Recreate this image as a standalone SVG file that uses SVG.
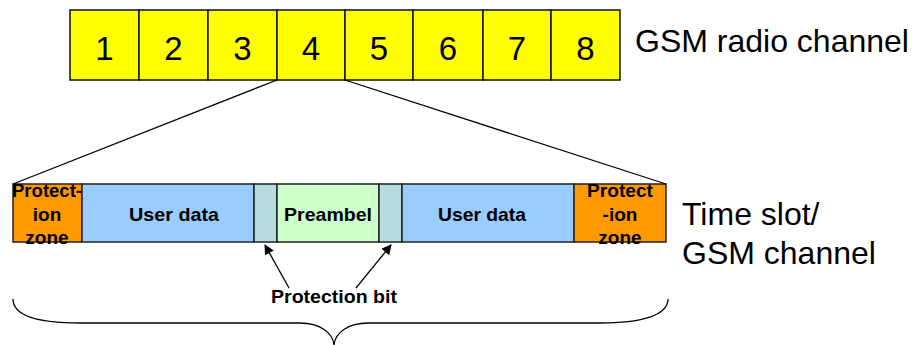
<svg xmlns="http://www.w3.org/2000/svg" width="912" height="345" viewBox="0 0 912 345">
  <style>
    .slot { fill: #FFFF00; stroke: #111; stroke-width: 1.5; }
    .num { font-family: "Liberation Sans", Arial, sans-serif; font-size: 33px; fill: #000; text-anchor: middle; }
    .big { font-family: "Liberation Sans", Arial, sans-serif; font-size: 32px; fill: #000; }
    .lbl { font-family: "Liberation Sans", Arial, sans-serif; font-size: 19px; font-weight: bold; fill: #000; text-anchor: middle; }
    .seg { stroke: #222; stroke-width: 1.5; }
    .zone { fill: #FF9900; }
    .user { fill: #99CCFF; }
    .pbit { fill: #B7DCDF; }
    .pre { fill: #CCFFCC; }
    .line { fill: none; stroke: #000; stroke-width: 1.3; }
  </style>
  <defs>
    <marker id="arrow" viewBox="0 0 10 10" refX="9" refY="5" markerWidth="11" markerHeight="10" markerUnits="userSpaceOnUse" orient="auto">
      <path d="M0,0 L10,5 L0,10 z" fill="#000"/>
    </marker>
  </defs>

  <!-- GSM radio channel: eight time slots -->
  <g id="slot1"><rect class="slot" x="70" y="10" width="69" height="70"/><text class="num" x="104.5" y="60">1</text></g>
  <g id="slot2"><rect class="slot" x="139" y="10" width="69" height="70"/><text class="num" x="173.5" y="60">2</text></g>
  <g id="slot3"><rect class="slot" x="208" y="10" width="69" height="70"/><text class="num" x="242.5" y="60">3</text></g>
  <g id="slot4"><rect class="slot" x="277" y="10" width="68" height="70"/><text class="num" x="311" y="60">4</text></g>
  <g id="slot5"><rect class="slot" x="345" y="10" width="68" height="70"/><text class="num" x="379" y="60">5</text></g>
  <g id="slot6"><rect class="slot" x="413" y="10" width="70" height="70"/><text class="num" x="448" y="60">6</text></g>
  <g id="slot7"><rect class="slot" x="483" y="10" width="68" height="70"/><text class="num" x="517" y="60">7</text></g>
  <g id="slot8"><rect class="slot" x="551" y="10" width="69" height="70"/><text class="num" x="585.5" y="60">8</text></g>
  <g id="radio-label"><text class="big" x="635" y="52">GSM radio channel</text></g>

  <!-- Time slot structure -->
  <g id="zone-left">
    <rect class="seg zone" x="13" y="184" width="69" height="58"/>
    <text class="lbl" x="47" y="197" textLength="70" lengthAdjust="spacingAndGlyphs">Protect-</text>
    <text class="lbl" x="47" y="221">ion</text>
    <text class="lbl" x="47" y="244">zone</text>
  </g>
  <g id="user-left">
    <rect class="seg user" x="82" y="184" width="172" height="58"/>
    <text class="lbl" x="174" y="221" textLength="90" lengthAdjust="spacingAndGlyphs">User data</text>
  </g>
  <g id="pbit-left"><rect class="seg pbit" x="254" y="184" width="23" height="58"/></g>
  <g id="preambel">
    <rect class="seg pre" x="277" y="184" width="102" height="58"/>
    <text class="lbl" x="328" y="221" textLength="88" lengthAdjust="spacingAndGlyphs">Preambel</text>
  </g>
  <g id="pbit-right"><rect class="seg pbit" x="379" y="184" width="23" height="58"/></g>
  <g id="user-right">
    <rect class="seg user" x="402" y="184" width="172" height="58"/>
    <text class="lbl" x="482" y="221" textLength="88" lengthAdjust="spacingAndGlyphs">User data</text>
  </g>
  <g id="zone-right">
    <rect class="seg zone" x="574" y="184" width="92" height="58"/>
    <text class="lbl" x="620" y="197" textLength="66" lengthAdjust="spacingAndGlyphs">Protect</text>
    <text class="lbl" x="620" y="221">-ion</text>
    <text class="lbl" x="620" y="244">zone</text>
  </g>
  <g id="slot-label">
    <text class="big" x="682" y="225">Time slot/</text>
    <text class="big" x="682" y="264">GSM channel</text>
  </g>
  <g id="pbit-label">
    <text class="lbl" x="334" y="303" textLength="126" lengthAdjust="spacingAndGlyphs">Protection bit</text>
  </g>

  <!-- Connectors -->
  <g id="connectors">
    <line class="line" x1="277" y1="80" x2="13" y2="184"/>
    <line class="line" x1="345" y1="80" x2="666" y2="184"/>
    <line class="line" x1="289" y1="288" x2="265" y2="245" stroke-width="2" marker-end="url(#arrow)"/>
    <line class="line" x1="356" y1="288" x2="391" y2="245" stroke-width="2" marker-end="url(#arrow)"/>
    <path class="line" stroke-width="1.6" d="M13,299 C13,316 40,323 80,323 L300,323 C320,323 333,333 334,345 C335,333 348,323 368,323 L600,323 C640,323 668,316 668,299"/>
  </g>
</svg>
